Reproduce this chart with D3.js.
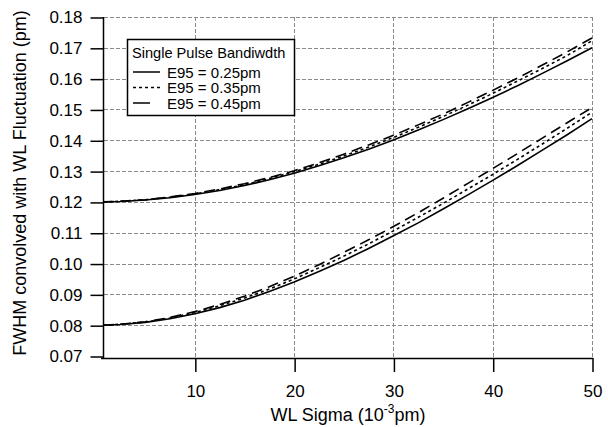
<!DOCTYPE html>
<html>
<head>
<meta charset="utf-8">
<script src="https://cdn.jsdelivr.net/npm/d3@7"></script>
<style>
  body { margin: 0; background: #fff; }
  svg { font-family: Arial, "Liberation Sans", sans-serif; }
</style>
</head>
<body>
<div id="chart"></div>
<script>
var width = 608,
    height = 427;

// WL sigma (10^-3 pm)
var sigma = [0.75, 2.5, 5, 7.5, 10, 12.5, 15, 17.5, 20, 22.5, 25, 27.5, 30,
             32.5, 35, 37.5, 40, 42.5, 45, 47.5, 50];

// upper group (0.12 start)
var upper025 = [0.1200, 0.12015, 0.1206, 0.12135, 0.1224, 0.1237, 0.1253, 0.1272, 0.1293, 0.1317, 0.1343,
                0.1371, 0.1401, 0.1433, 0.1467, 0.1502, 0.1539, 0.1577, 0.1617, 0.1658, 0.1700];
var upper035 = [0.1200, 0.1202, 0.1207, 0.1215, 0.1226, 0.1240, 0.1256, 0.1276, 0.1298, 0.1322, 0.1349,
                0.1378, 0.1409, 0.1442, 0.1477, 0.1514, 0.1552, 0.1592, 0.1633, 0.1675, 0.1723];
var upper045 = [0.1200, 0.1202, 0.1207, 0.1216, 0.1227, 0.1242, 0.1259, 0.1279, 0.1301, 0.1327, 0.1355,
                0.1385, 0.1416, 0.1450, 0.1485, 0.1523, 0.1562, 0.1602, 0.1644, 0.1687, 0.1732];

// lower group (0.08 start)
var lower025 = [0.0800, 0.0802, 0.0809, 0.0821, 0.0837, 0.0857, 0.0881, 0.0909, 0.0940, 0.0974, 0.1010,
                0.1049, 0.1090, 0.1132, 0.1177, 0.1223, 0.1270, 0.1318, 0.1368, 0.1418, 0.1470];
var lower035 = [0.0800, 0.0803, 0.0810, 0.0823, 0.0841, 0.0863, 0.0888, 0.0917, 0.0950, 0.0986, 0.1024,
                0.1064, 0.1106, 0.1150, 0.1195, 0.1242, 0.1289, 0.1338, 0.1388, 0.1439, 0.1491];
var lower045 = [0.0800, 0.0803, 0.0811, 0.0825, 0.0844, 0.0867, 0.0894, 0.0925, 0.0959, 0.0996, 0.1036,
                0.1077, 0.1120, 0.1165, 0.1212, 0.1260, 0.1308, 0.1357, 0.1407, 0.1457, 0.1506];

var xTicks = [10, 20, 30, 40, 50];
var yTicks = [0.07, 0.08, 0.09, 0.10, 0.11, 0.12, 0.13, 0.14, 0.15, 0.16, 0.17, 0.18];

var legendTitle = 'Single Pulse Bandiwdth';
var legendLabels = ['E95 = 0.25pm', 'E95 = 0.35pm', 'E95 = 0.45pm'];
var dashes = [null, '3,3', '11,6'];

var series = [
    { values: upper025, k: 0 }, { values: upper035, k: 1 }, { values: upper045, k: 2 },
    { values: lower025, k: 0 }, { values: lower035, k: 1 }, { values: lower045, k: 2 }
];

var xScale = d3.scaleLinear()
    .domain([0.75, 50])
    .range([103, 592]);

var yScale = d3.scaleLinear()
    .domain([0.07, 0.18])
    .range([356, 17]);

var svg = d3.select('#chart').append('svg')
    .attr('width', width)
    .attr('height', height);

// grid
var grid = svg.append('g').attr('class', 'grid')
    .attr('stroke', '#8a8a8a')
    .attr('stroke-width', 1)
    .attr('stroke-dasharray', '4,2');

grid.selectAll('line.h')
    .data(yTicks.filter(function(d){ return d > 0.075; }))
    .enter().append('line')
    .attr('x1', 104)
    .attr('x2', xScale(50))
    .attr('y1', function(d){ return Math.round(yScale(d)) + 0.5; })
    .attr('y2', function(d){ return Math.round(yScale(d)) + 0.5; });

grid.selectAll('line.v')
    .data(xTicks)
    .enter().append('line')
    .attr('x1', function(d){ return Math.round(xScale(d)) + 0.5; })
    .attr('x2', function(d){ return Math.round(xScale(d)) + 0.5; })
    .attr('y1', yScale(0.18))
    .attr('y2', 358);

// axes
var yAxis = d3.axisLeft(yScale)
    .tickValues(yTicks)
    .tickFormat(d3.format('.2f'))
    .tickSize(13)
    .tickPadding(8)
    .tickSizeOuter(0);

var gy = svg.append('g')
    .attr('transform', 'translate(103.5,0.5)')
    .call(yAxis);
gy.select('.domain').remove();
gy.selectAll('text').style('font-size', '17px').attr('fill', '#000');
gy.selectAll('line').attr('stroke', '#000').attr('stroke-width', 1.5);

var xAxis = d3.axisBottom(xScale)
    .tickValues(xTicks)
    .tickSize(14)
    .tickPadding(13)
    .tickSizeOuter(0);

var gx = svg.append('g')
    .attr('transform', 'translate(0.5,358)')
    .call(xAxis);
gx.select('.domain').remove();
gx.selectAll('text').style('font-size', '17px').attr('fill', '#000');
gx.selectAll('line').attr('stroke', '#000').attr('stroke-width', 1.5);

svg.append('line')
    .attr('x1', 103.5).attr('x2', 103.5)
    .attr('y1', yScale(0.18)).attr('y2', 358.5)
    .attr('stroke', '#000').attr('stroke-width', 1.5);
svg.append('line')
    .attr('x1', 101).attr('x2', xScale(50) + 1)
    .attr('y1', 358.5).attr('y2', 358.5)
    .attr('stroke', '#000').attr('stroke-width', 1.5);

// curves
var line = d3.line()
    .x(function(d, i){ return xScale(sigma[i]); })
    .y(function(d){ return yScale(d); });

svg.selectAll('path.curve')
    .data(series)
    .enter().append('path')
    .attr('class', 'curve')
    .attr('d', function(d){ return line(d.values); })
    .attr('fill', 'none')
    .attr('stroke', '#000')
    .attr('stroke-width', 1.6)
    .attr('stroke-dasharray', function(d){ return dashes[d.k]; });

// legend
var legend = svg.append('g').attr('transform', 'translate(127,39)');

legend.append('rect')
    .attr('x', 0.5).attr('y', 0.5)
    .attr('width', 167).attr('height', 76)
    .attr('fill', '#fff')
    .attr('stroke', '#000')
    .attr('stroke-width', 1.5);

legend.append('text')
    .attr('x', 5).attr('y', 19)
    .style('font-size', '14.6px')
    .text(legendTitle);

var items = legend.selectAll('g.item')
    .data(legendLabels)
    .enter().append('g')
    .attr('transform', function(d, i){ return 'translate(0,' + (33 + i * 15.5) + ')'; });

items.append('line')
    .attr('x1', 6)
    .attr('x2', function(d, i){ return i === 2 ? 23 : 33; })
    .attr('y1', 0).attr('y2', 0)
    .attr('stroke', '#000')
    .attr('stroke-width', 1.5)
    .attr('stroke-dasharray', function(d, i){ return i === 1 ? '3,3' : null; });

items.append('text')
    .attr('x', 40).attr('y', 5.5)
    .style('font-size', '15px')
    .text(function(d){ return d; });

// axis titles
var xt = svg.append('text')
    .attr('x', 348).attr('y', 421)
    .attr('text-anchor', 'middle')
    .style('font-size', '18px');
xt.append('tspan').text('WL Sigma (10');
xt.append('tspan').attr('dy', -8).style('font-size', '12px').text('-3');
xt.append('tspan').attr('dy', 8).text('pm)');

svg.append('text')
    .attr('transform', 'translate(26,183) rotate(-90)')
    .attr('text-anchor', 'middle')
    .style('font-size', '18px')
    .text('FWHM convolved with WL Fluctuation (pm)');
</script>
</body>
</html>
